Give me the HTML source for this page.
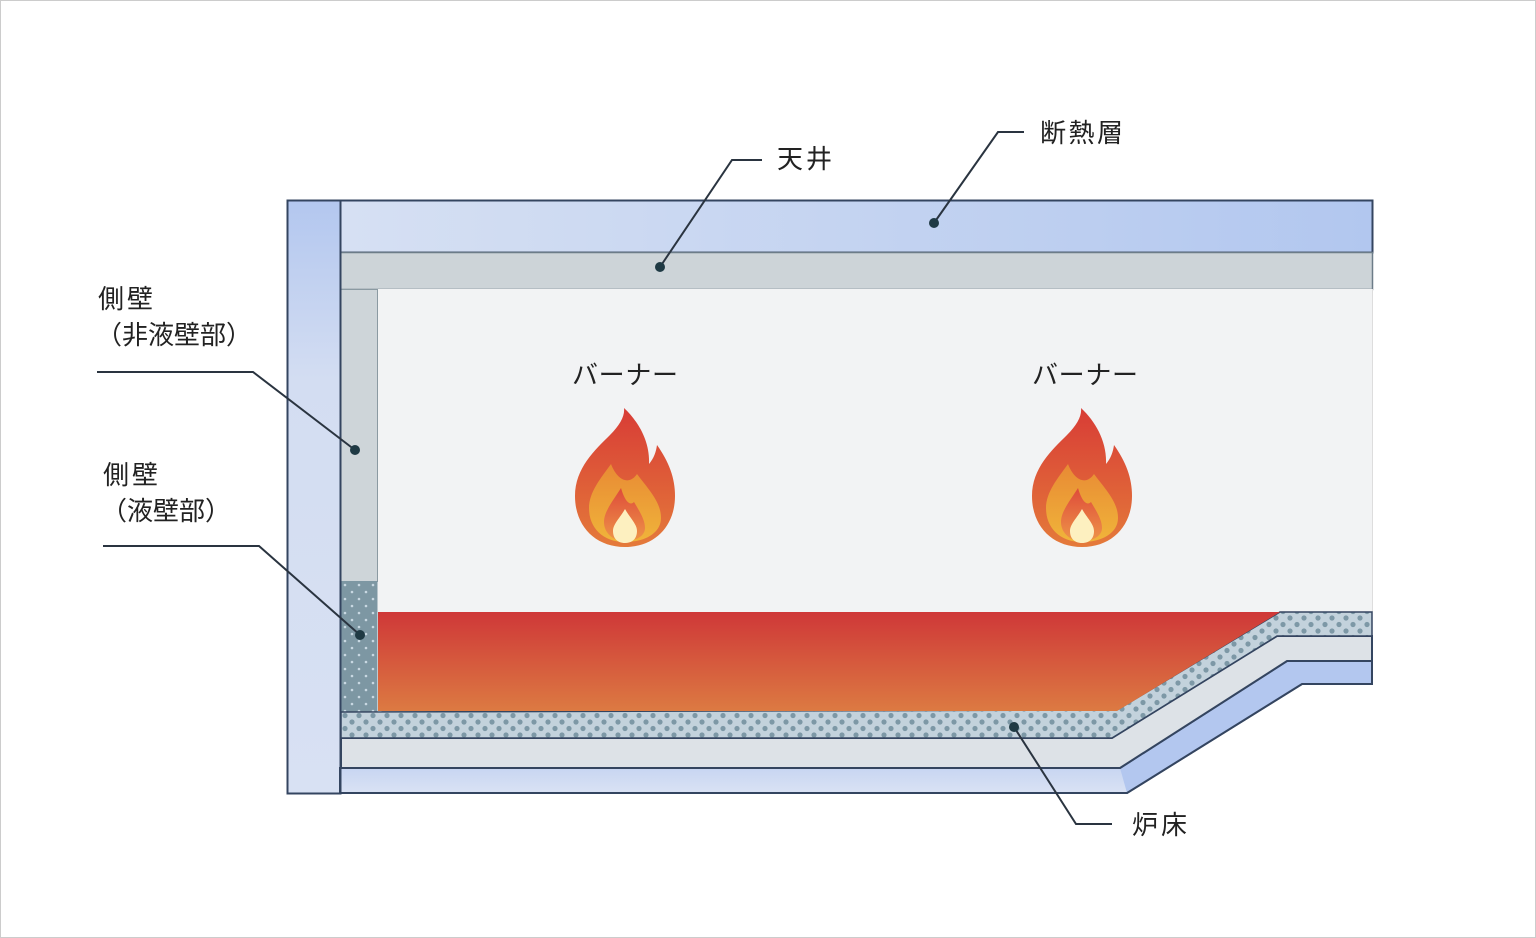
<!DOCTYPE html>
<html><head><meta charset="utf-8"><style>
html,body{margin:0;padding:0;background:#fff;}
svg{display:block;}
text{font-family:"Liberation Sans","Noto Sans CJK JP",sans-serif;fill:#222;font-size:26px;}
</style></head><body>
<svg width="1536" height="938" viewBox="0 0 1536 938" xmlns="http://www.w3.org/2000/svg">
<defs>
<linearGradient id="blueH" x1="0" y1="0" x2="1" y2="0"><stop offset="0" stop-color="#d6e0f3"/><stop offset="1" stop-color="#b2c7ef"/></linearGradient>
<linearGradient id="blueV" gradientUnits="userSpaceOnUse" x1="0" y1="740" x2="0" y2="795"><stop offset="0" stop-color="#b3c7ef"/><stop offset="1" stop-color="#dbe3f4"/></linearGradient>
<linearGradient id="colL" x1="0" y1="0" x2="0" y2="1"><stop offset="0" stop-color="#b3c7ef"/><stop offset="0.3" stop-color="#d3ddf2"/><stop offset="1" stop-color="#d8e1f3"/></linearGradient>
<linearGradient id="molten" x1="0" y1="0" x2="0" y2="1"><stop offset="0" stop-color="#cf3838"/><stop offset="1" stop-color="#dc7a42"/></linearGradient>
<pattern id="dotsF" width="14" height="13" patternUnits="userSpaceOnUse" x="341" y="712"><rect width="14" height="13" fill="#c3d2dc"/><circle cx="4" cy="3.5" r="2.6" fill="#7d98a6"/><circle cx="11" cy="10" r="2.6" fill="#7d98a6"/></pattern>
<pattern id="dotsW" width="14" height="14" patternUnits="userSpaceOnUse" x="341" y="581"><rect width="14" height="14" fill="#7d97a3"/><circle cx="4" cy="4" r="1.3" fill="#c8d8e2"/><circle cx="11" cy="11" r="1.3" fill="#c8d8e2"/></pattern>
<linearGradient id="fo" x1="0" y1="0" x2="0" y2="1"><stop offset="0" stop-color="#d83c36"/><stop offset="1" stop-color="#e47a3a"/></linearGradient>
<linearGradient id="fm" x1="0" y1="0" x2="0" y2="1"><stop offset="0" stop-color="#e88a34"/><stop offset="1" stop-color="#f0b43a"/></linearGradient>
<linearGradient id="fi" x1="0" y1="0" x2="0" y2="1"><stop offset="0" stop-color="#de4b3a"/><stop offset="1" stop-color="#ee9448"/></linearGradient>
<g id="flame">
<path d="M50 139 C20 139 0 118 0 88 C0 60 20 42 35 27 C45 17 50 8 49 0 C64 14 75 34 74 56 C79 50 81 44 82 37 C94 54 100 70 100 88 C100 118 80 139 50 139Z" fill="url(#fo)"/>
<path d="M50 134 C28 134 14 120 14 100 C14 84 26 70 36 56 C42 72 54 78 62 66 C74 82 86 94 86 110 C86 125 70 134 50 134Z" fill="url(#fm)"/>
<path d="M50 133 C37 133 29 124 29 114 C29 104 37 94 46 80 C50 94 55 98 59 94 C65 104 70 112 70 120 C70 128 61 133 50 133Z" fill="url(#fi)"/>
<path d="M50 135 C42 135 38 130 38 123 C38 116 45 110 50 101 C55 110 62 116 62 123 C62 130 58 135 50 135Z" fill="#fdf0c0"/>
</g>
</defs>
<rect x="0.5" y="0.5" width="1535" height="937" fill="#fff" stroke="#ccc"/>
<rect x="287.5" y="200.5" width="53" height="593" fill="url(#colL)" stroke="#344560" stroke-width="2"/>
<rect x="340.5" y="200.5" width="1032" height="52" fill="url(#blueH)" stroke="#344560" stroke-width="2"/>
<rect x="340.5" y="252.5" width="1032" height="37" fill="#cdd4d8" stroke="#6c7c88" stroke-width="1.5"/>
<rect x="377" y="289" width="995" height="323" fill="#f2f3f4"/>
<line x1="1372.5" y1="289" x2="1372.5" y2="612" stroke="#ddd"/>
<rect x="340.5" y="289.5" width="37" height="292" fill="#ced5d9" stroke="#8b9aa2" stroke-width="1"/>
<rect x="340.5" y="581" width="37" height="131" fill="url(#dotsW)"/>
<path d="M340 768 L1120 768 L1287 661 L1372 661 L1372 684 L1302 684 L1127 793 L340 793Z" fill="url(#blueV)" stroke="#344560" stroke-width="2"/>
<path d="M1120 768 L1287 661 L1372 661 L1372 684 L1302 684 L1127 793Z" fill="#b3c7ef"/>
<path d="M340 793 L1127 793 L1302 684 L1372 684 L1372 661 L1287 661 L1120 768" fill="none" stroke="#344560" stroke-width="2"/>
<path d="M341 738 L1112 738 L1277 636 L1372 636 L1372 661 L1287 661 L1120 768 L341 768Z" fill="#dde2e7" stroke="#344560" stroke-width="2"/>
<path d="M341 712 L1117 710 L1280 612 L1372 612 L1372 636 L1277 636 L1112 738 L341 738Z" fill="url(#dotsF)" stroke="#344560" stroke-width="1.5"/>
<path d="M378 612 L1280 612 L1117 711 L378 711Z" fill="url(#molten)"/>
<line x1="340.5" y1="200" x2="340.5" y2="794" stroke="#344560" stroke-width="2"/>
<use href="#flame" transform="translate(575,408)"/>
<use href="#flame" transform="translate(1032,408)"/>
<text x="572" y="384" textLength="106">バーナー</text>
<text x="1032" y="384" textLength="106">バーナー</text>
<g stroke="#2a3440" stroke-width="2" fill="none">
<polyline points="660,267 732,160 762,160"/>
<polyline points="934,223 998,132 1024,132"/>
<polyline points="355,450 253,372 97,372"/>
<polyline points="360,635 259,546 103,546"/>
<polyline points="1014,727 1076,824 1112,824"/>
</g>
<g fill="#1f3a44">
<circle cx="660" cy="267" r="5"/><circle cx="934" cy="223" r="5"/><circle cx="355" cy="450" r="5"/><circle cx="360" cy="635" r="5"/><circle cx="1014" cy="727" r="5"/>
</g>
<text x="777" y="168" textLength="55">天井</text>
<text x="1040" y="142" textLength="83">断熱層</text>
<text x="98" y="308" textLength="55">側壁</text>
<text x="96" y="344">（非液壁部）</text>
<text x="103" y="484" textLength="55">側壁</text>
<text x="101" y="520">（液壁部）</text>
<text x="1132" y="834" textLength="55">炉床</text>
</svg>
</body></html>
